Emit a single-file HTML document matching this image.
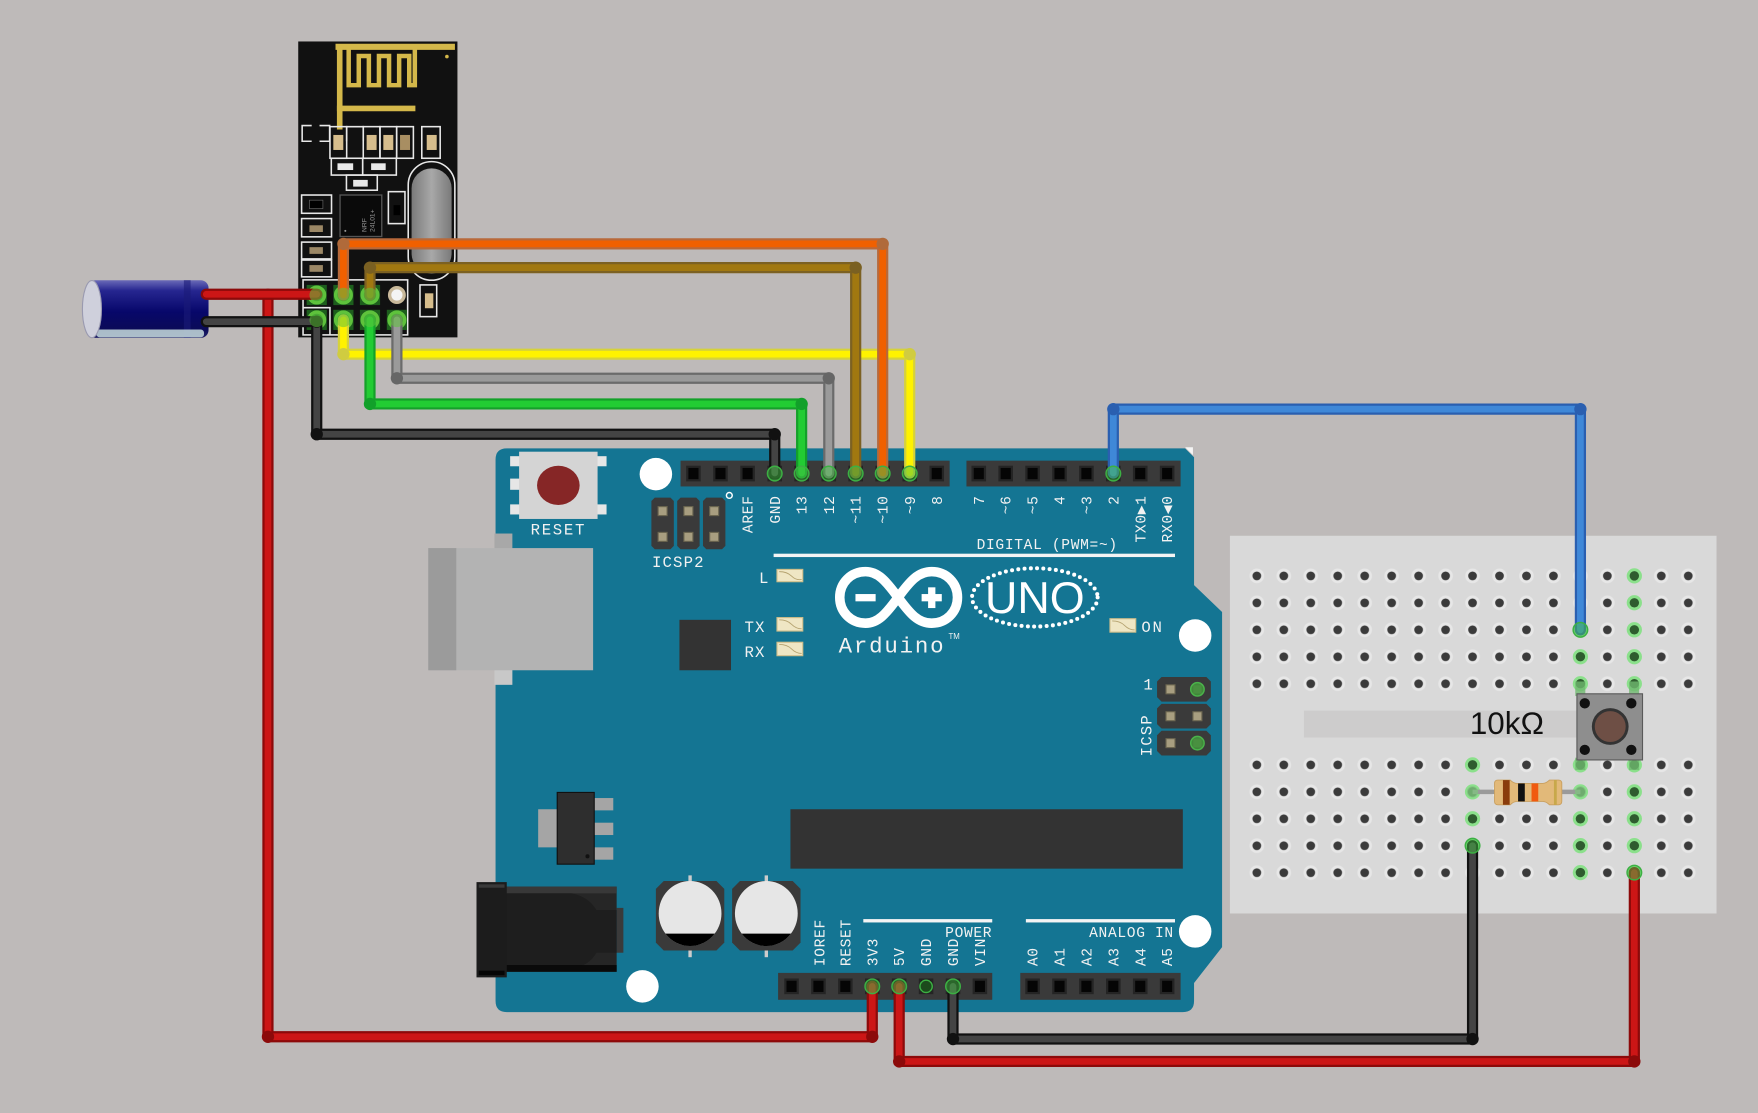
<!DOCTYPE html>
<html><head><meta charset="utf-8">
<style>
html,body{margin:0;padding:0;background:#bebab9;overflow:hidden}
svg{display:block}
text{font-family:"Liberation Mono","DejaVu Sans Mono",monospace;fill:#f2f2f2}
.lb{font-size:13px;letter-spacing:0.6px}
</style></head><body>
<svg width="1758" height="1113" viewBox="0 0 1568 993" preserveAspectRatio="none" xmlns="http://www.w3.org/2000/svg">
<defs>
 <g id="pin"><rect x="-6.5" y="-7" width="13" height="14" fill="#242424"/><rect x="-4.5" y="-5" width="9" height="10" fill="#050505"/></g>
 <g id="gp"><circle r="6.5" fill="rgba(70,190,70,0.5)" stroke="#3cb043" stroke-width="1.3"/></g>
 <g id="gh"><circle r="6.8" fill="#8be08b"/><circle r="4.2" fill="#2f5c2f"/></g>
 <g id="tp"><rect x="-4" y="-4" width="8" height="8" fill="#a89e80" stroke="#6c6650" stroke-width="1"/></g>
 <pattern id="holes" patternUnits="userSpaceOnUse" x="1109" y="501.8" width="24.05" height="24.05">
   <circle cx="12" cy="12" r="6.5" fill="#e7e7e7"/><circle cx="12" cy="12" r="3.9" fill="#3b3b3b"/>
 </pattern>
 <pattern id="holes2" patternUnits="userSpaceOnUse" x="1109" y="670.4" width="24.05" height="24.05">
   <circle cx="12" cy="12" r="6.5" fill="#e7e7e7"/><circle cx="12" cy="12" r="3.9" fill="#3b3b3b"/>
 </pattern>
 <linearGradient id="capg" x1="0" y1="0" x2="0" y2="1">
  <stop offset="0" stop-color="#6a6ab8"/><stop offset="0.18" stop-color="#262690"/>
  <stop offset="0.55" stop-color="#07076a"/><stop offset="0.85" stop-color="#0b0b58"/><stop offset="1" stop-color="#23236a"/>
 </linearGradient>
 <linearGradient id="xtal" x1="0" y1="0" x2="1" y2="0">
  <stop offset="0" stop-color="#7a7a7a"/><stop offset="0.5" stop-color="#a8a8a8"/><stop offset="1" stop-color="#7a7a7a"/>
 </linearGradient>
</defs>

<rect width="1568" height="993" fill="#bebab9"/>

<!-- ===== Breadboard ===== -->
<rect x="1097" y="478" width="434" height="337" fill="#d9d9d9"/>
<rect x="1109" y="501.8" width="408.9" height="120.3" fill="url(#holes)"/>
<rect x="1109" y="670.4" width="408.9" height="120.3" fill="url(#holes2)"/>
<rect x="1163" y="634" width="244" height="24" fill="#cdcccc"/>
<text x="1311" y="655" style="font-family:'Liberation Sans',sans-serif;font-size:28px;fill:#111">10kΩ</text>
<!-- green holes -->
<use href="#gh" x="1409.6" y="561.9"/><use href="#gh" x="1409.6" y="585.9"/><use href="#gh" x="1409.6" y="610"/>
<use href="#gh" x="1409.6" y="682.4"/><use href="#gh" x="1409.6" y="706.5"/><use href="#gh" x="1409.6" y="730.5"/><use href="#gh" x="1409.6" y="754.5"/><use href="#gh" x="1409.6" y="778.5"/>
<use href="#gh" x="1457.7" y="513.8"/><use href="#gh" x="1457.7" y="537.8"/><use href="#gh" x="1457.7" y="561.9"/><use href="#gh" x="1457.7" y="585.9"/><use href="#gh" x="1457.7" y="610"/>
<use href="#gh" x="1457.7" y="682.4"/><use href="#gh" x="1457.7" y="706.5"/><use href="#gh" x="1457.7" y="730.5"/><use href="#gh" x="1457.7" y="754.5"/><use href="#gh" x="1457.7" y="778.5"/>
<use href="#gh" x="1313.4" y="682.4"/><use href="#gh" x="1313.4" y="706.5"/><use href="#gh" x="1313.4" y="730.5"/><use href="#gh" x="1313.4" y="754.5"/>
<!-- pushbutton legs -->
<rect x="1405" y="608" width="9" height="13" fill="#6fb86f" opacity="0.8"/>
<rect x="1453" y="608" width="9" height="13" fill="#6fb86f" opacity="0.8"/>
<rect x="1405" y="676" width="9" height="11" fill="#6fb86f" opacity="0.8"/>
<rect x="1453" y="676" width="9" height="11" fill="#6fb86f" opacity="0.8"/>
<!-- pushbutton -->
<rect x="1406.5" y="619" width="58.5" height="59" fill="#8e8e8e" stroke="#5a5a5a" stroke-width="1"/>
<circle cx="1436.2" cy="648.2" r="16.4" fill="#333"/>
<circle cx="1436.2" cy="648.2" r="13.8" fill="#6e4f45"/>
<circle cx="1413.5" cy="627.5" r="4.6" fill="#111"/><circle cx="1455" cy="627.5" r="4.6" fill="#111"/>
<circle cx="1413.5" cy="669" r="4.6" fill="#111"/><circle cx="1455" cy="669" r="4.6" fill="#111"/>
<!-- resistor -->
<line x1="1313.4" y1="706.5" x2="1409.6" y2="706.5" stroke="#9a9a9a" stroke-width="4"/>
<circle cx="1313.4" cy="706.5" r="5" fill="#7fc07f" opacity="0.8"/><circle cx="1409.6" cy="706.5" r="5" fill="#7fc07f" opacity="0.8"/>
<path d="M1336,696 H1347 Q1350,699 1353,699 H1376 Q1379,699 1382,696 H1390 Q1393,696 1393,699 V715 Q1393,718 1390,718 H1382 Q1379,715 1376,715 H1353 Q1350,715 1347,718 H1336 Q1333,718 1333,715 V699 Q1333,696 1336,696 Z" fill="#e2b979" stroke="#c9a060" stroke-width="0.8"/>
<rect x="1340.5" y="696" width="6" height="22" fill="#8a3c0c"/>
<rect x="1354" y="699" width="6" height="16" fill="#111"/>
<rect x="1366" y="699" width="6" height="16" fill="#f05a10"/>
<rect x="1386" y="696" width="2.5" height="22" fill="#c8a84a"/>

<!-- ===== Arduino board ===== -->
<path d="M452,400 H1057 L1065,408 V522 L1090,546 V845 L1065,877 V893 Q1065,903 1055,903 H452 Q442,903 442,893 V410 Q442,400 452,400 Z" fill="#147593"/>
<polygon points="1057,399 1064,399 1064,406" fill="#f4f4f4"/>
<!-- mounting holes -->
<circle cx="585" cy="423" r="14.5" fill="#fff"/>
<circle cx="1066" cy="567" r="14.5" fill="#fff"/>
<circle cx="1066" cy="831" r="14.5" fill="#fff"/>
<circle cx="573" cy="880" r="14.5" fill="#fff"/>
<!-- reset -->
<rect x="455" y="407" width="9" height="9" fill="#e6e6e6"/><rect x="455" y="427" width="9" height="10" fill="#e6e6e6"/><rect x="455" y="450" width="9" height="9" fill="#e6e6e6"/>
<rect x="532" y="407" width="9" height="9" fill="#e6e6e6"/><rect x="532" y="450" width="9" height="9" fill="#e6e6e6"/>
<rect x="463" y="403" width="70" height="60" fill="#d4d4d4"/>
<ellipse cx="498" cy="433" rx="19" ry="17.5" fill="#862626"/>
<text x="498" y="477" text-anchor="middle" style="font-size:14px;letter-spacing:1.5px">RESET</text>
<!-- USB -->
<rect x="441" y="476" width="16" height="14" fill="#a8a8a8"/>
<rect x="441" y="597" width="16" height="14" fill="#c8c8c8"/>
<rect x="382" y="489" width="147" height="109" fill="#b3b3b3"/>
<rect x="382" y="489" width="25" height="109" fill="#9b9b9b"/>
<!-- ICSP2 -->
<path d="M584,444 H598 L601,447 V487 L598,490 H584 L581,487 V447 Z" fill="#3a3a3a"/>
<path d="M607,444 H621 L624,447 V487 L621,490 H607 L604,487 V447 Z" fill="#3a3a3a"/>
<path d="M630,444 H644 L647,447 V487 L644,490 H630 L627,487 V447 Z" fill="#3a3a3a"/>
<use href="#tp" x="591" y="456"/><use href="#tp" x="614" y="456"/><use href="#tp" x="637" y="456"/>
<use href="#tp" x="591" y="479"/><use href="#tp" x="614" y="479"/><use href="#tp" x="637" y="479"/>
<circle cx="650.5" cy="442" r="2.6" fill="none" stroke="#fff" stroke-width="1.3"/>
<text x="605" y="506" text-anchor="middle" style="font-size:14px;letter-spacing:1px">ICSP2</text>
<!-- 16U2 chip -->
<rect x="606" y="553" width="46" height="45" fill="#333"/>
<!-- LEDs -->
<g fill="#efe6c4" stroke="#cdbd8a" stroke-width="1">
<rect x="693" y="508" width="23" height="11"/><rect x="693" y="551" width="23" height="12"/><rect x="693" y="573" width="23" height="12"/><rect x="990" y="552" width="23" height="12"/>
</g>
<g stroke="#b5a370" stroke-width="0.8" fill="none">
<path d="M695,510 Q702,510 706,514 T715,517"/><path d="M695,553 Q702,553 706,557 T715,561"/><path d="M695,575 Q702,575 706,579 T715,583"/><path d="M992,554 Q999,554 1003,558 T1012,562"/>
</g>
<text x="677" y="520" style="font-size:14px">L</text>
<text x="664" y="564" style="font-size:14px;letter-spacing:1px">TX</text>
<text x="664" y="586" style="font-size:14px;letter-spacing:1px">RX</text>
<text x="1018" y="564" style="font-size:14px;letter-spacing:1.5px">ON</text>
<!-- logo -->
<path d="M801,533 C790,518 783,510 772,510 C759,510 749,520 749,533 C749,546 759,556 772,556 C783,556 790,548 801,533 C812,518 819,510 831,510 C844,510 854,520 854,533 C854,546 844,556 831,556 C819,556 812,548 801,533 Z" fill="none" stroke="#fff" stroke-width="8.5"/>
<rect x="763" y="530" width="18" height="6.5" fill="#fff"/>
<rect x="822" y="530" width="18" height="6.5" fill="#fff"/>
<rect x="827.8" y="524" width="6.5" height="18.5" fill="#fff"/>
<ellipse cx="923" cy="533" rx="56" ry="26" fill="none" stroke="#fff" stroke-width="3.6" stroke-dasharray="0 5.6" stroke-linecap="round"/>
<text x="923" y="547" text-anchor="middle" style="font-family:'Liberation Sans',sans-serif;font-size:40px;fill:#fff">UNO</text>
<text x="748" y="582" style="font-size:20px;letter-spacing:1.6px">Arduino</text>
<text x="846" y="570" style="font-family:'Liberation Sans',sans-serif;font-size:7px">TM</text>
<!-- digital line + text -->
<rect x="690" y="494" width="358" height="3" fill="#f4f4f4"/>
<text x="997" y="490" text-anchor="end" class="lb">DIGITAL (PWM=~)</text>
<!-- right ICSP -->
<path d="M1036,604 H1076 L1080,608 V622 L1076,626 H1036 L1032,622 V608 Z" fill="#3a3a3a"/>
<path d="M1036,628 H1076 L1080,632 V646 L1076,650 H1036 L1032,646 V632 Z" fill="#3a3a3a"/>
<path d="M1036,652 H1076 L1080,656 V670 L1076,674 H1036 L1032,670 V656 Z" fill="#3a3a3a"/>
<use href="#tp" x="1044" y="615"/><use href="#tp" x="1068" y="615"/>
<use href="#tp" x="1044" y="639"/><use href="#tp" x="1068" y="639"/>
<use href="#tp" x="1044" y="663"/><use href="#tp" x="1068" y="663"/>
<circle cx="1068" cy="615" r="6" fill="#3f8f3a" stroke="#4cc04c" stroke-width="1.3" opacity="0.9"/>
<circle cx="1068" cy="663" r="6" fill="#3f8f3a" stroke="#4cc04c" stroke-width="1.3" opacity="0.9"/>
<text x="1024" y="615" text-anchor="middle" style="font-size:14px">1</text>
<text transform="translate(1027,656) rotate(-90)" text-anchor="middle" style="font-size:14px;letter-spacing:1px">ICSP</text>
<!-- ATmega -->
<rect x="705" y="722" width="350" height="53" fill="#333"/>
<!-- regulator -->
<rect x="480" y="722" width="18" height="34" fill="#a5a5a5"/>
<rect x="529" y="712" width="18" height="11" fill="#a5a5a5"/>
<rect x="529" y="734" width="18" height="11" fill="#a5a5a5"/>
<rect x="529" y="756" width="18" height="11" fill="#a5a5a5"/>
<rect x="497" y="707" width="33" height="64" fill="#2e2e2e" stroke="#111" stroke-width="1"/>
<circle cx="524" cy="764" r="1.8" fill="#111"/>
<!-- power jack -->
<rect x="550" y="810" width="6" height="40" fill="#3a3a3a"/>
<rect x="451" y="791" width="99" height="76" fill="#262626"/>
<rect x="451" y="791" width="99" height="6" fill="#383838"/>
<path d="M451,797 H510 Q525,800 532,812 H550 V850 H532 Q525,862 510,864 H451 Z" fill="#1e1e1e"/>
<rect x="451" y="861" width="99" height="6" fill="#0a0a0a"/>
<rect x="425" y="787" width="27" height="85" fill="#1c1c1c"/>
<rect x="427" y="789" width="23" height="3" fill="#3a3a3a"/>
<rect x="427" y="866" width="23" height="4" fill="#050505"/>
<!-- capacitors -->
<polygon points="592,786 639,786 646,793 646,841 639,848 592,848 585,841 585,793" fill="#3a3a3a"/>
<polygon points="660,786 707,786 714,793 714,841 707,848 660,848 653,841 653,793" fill="#3a3a3a"/>
<rect x="614" y="781" width="3" height="6" fill="#ccc"/><rect x="614" y="848" width="3" height="6" fill="#ccc"/>
<rect x="682" y="781" width="3" height="6" fill="#ccc"/><rect x="682" y="848" width="3" height="6" fill="#ccc"/>
<ellipse cx="615.5" cy="815" rx="28" ry="29" fill="#e6e6e6"/>
<ellipse cx="683.5" cy="815" rx="28" ry="29" fill="#e6e6e6"/>
<path d="M593.5,833 A28,29 0 0 0 637.5,833 Z" fill="#000"/>
<path d="M661.5,833 A28,29 0 0 0 705.5,833 Z" fill="#000"/>

<!-- top headers -->
<rect x="607" y="411" width="240" height="23" fill="#3a3a3a"/>
<rect x="862" y="411" width="191" height="23" fill="#3a3a3a"/>
<use href="#pin" x="618.5" y="422.5"/><use href="#pin" x="642.6" y="422.5"/><use href="#pin" x="666.8" y="422.5"/><use href="#pin" x="691" y="422.5"/><use href="#pin" x="715" y="422.5"/>
<use href="#pin" x="739.2" y="422.5"/><use href="#pin" x="763.2" y="422.5"/><use href="#pin" x="787.3" y="422.5"/><use href="#pin" x="811.4" y="422.5"/><use href="#pin" x="835.5" y="422.5"/>
<use href="#pin" x="873" y="422.5"/><use href="#pin" x="897" y="422.5"/><use href="#pin" x="921" y="422.5"/><use href="#pin" x="945" y="422.5"/>
<use href="#pin" x="969" y="422.5"/><use href="#pin" x="993" y="422.5"/><use href="#pin" x="1017" y="422.5"/><use href="#pin" x="1041" y="422.5"/>
<!-- top labels -->
<g class="lb" text-anchor="end">
<text transform="translate(671.3,442) rotate(-90)">AREF</text>
<text transform="translate(695.5,442) rotate(-90)">GND</text>
<text transform="translate(719.5,442) rotate(-90)">13</text>
<text transform="translate(743.7,442) rotate(-90)">12</text>
<text transform="translate(767.7,442) rotate(-90)">~11</text>
<text transform="translate(791.8,442) rotate(-90)">~10</text>
<text transform="translate(815.9,442) rotate(-90)">~9</text>
<text transform="translate(840,442) rotate(-90)">8</text>
<text transform="translate(877.5,442) rotate(-90)">7</text>
<text transform="translate(901.5,442) rotate(-90)">~6</text>
<text transform="translate(925.5,442) rotate(-90)">~5</text>
<text transform="translate(949.5,442) rotate(-90)">4</text>
<text transform="translate(973.5,442) rotate(-90)">~3</text>
<text transform="translate(997.5,442) rotate(-90)">2</text>
<text transform="translate(1021.5,442) rotate(-90)">TX0▶1</text>
<text transform="translate(1045.5,442) rotate(-90)">RX0◀0</text>
</g>
<!-- bottom headers -->
<rect x="694" y="868" width="191" height="24" fill="#3a3a3a"/>
<rect x="910" y="868" width="143" height="24" fill="#3a3a3a"/>
<use href="#pin" x="706" y="880"/><use href="#pin" x="730" y="880"/><use href="#pin" x="754" y="880"/><use href="#pin" x="778" y="880"/>
<use href="#pin" x="802" y="880"/><use href="#pin" x="826" y="880"/><use href="#pin" x="850" y="880"/><use href="#pin" x="874" y="880"/>
<use href="#pin" x="921" y="880"/><use href="#pin" x="945" y="880"/><use href="#pin" x="969" y="880"/><use href="#pin" x="993" y="880"/><use href="#pin" x="1017" y="880"/><use href="#pin" x="1041" y="880"/>
<circle cx="826" cy="880" r="5.5" fill="#1c4a1c" stroke="#3cb043" stroke-width="1.3"/>
<rect x="770" y="820" width="115" height="3" fill="#f4f4f4"/>
<rect x="915" y="820" width="133" height="3" fill="#f4f4f4"/>
<text x="885" y="836" text-anchor="end" class="lb">POWER</text>
<text x="1047" y="836" text-anchor="end" class="lb">ANALOG IN</text>
<g class="lb">
<text transform="translate(735.5,862) rotate(-90)">IOREF</text>
<text transform="translate(758.5,862) rotate(-90)">RESET</text>
<text transform="translate(782.5,862) rotate(-90)">3V3</text>
<text transform="translate(806.5,862) rotate(-90)">5V</text>
<text transform="translate(830.5,862) rotate(-90)">GND</text>
<text transform="translate(854.5,862) rotate(-90)">GND</text>
<text transform="translate(878.5,862) rotate(-90)">VIN</text>
<text transform="translate(925.5,862) rotate(-90)">A0</text>
<text transform="translate(949.5,862) rotate(-90)">A1</text>
<text transform="translate(973.5,862) rotate(-90)">A2</text>
<text transform="translate(997.5,862) rotate(-90)">A3</text>
<text transform="translate(1021.5,862) rotate(-90)">A4</text>
<text transform="translate(1045.5,862) rotate(-90)">A5</text>
</g>

<!-- ===== nRF24L01 module ===== -->
<rect x="266" y="37" width="142" height="264" fill="#111"/>
<g stroke="#d4b84a" fill="none" stroke-linecap="square">
<line x1="302" y1="41.8" x2="403" y2="41.8" stroke-width="5.5"/>
<line x1="303" y1="42" x2="303" y2="113" stroke-width="5"/>
<line x1="303" y1="96.7" x2="368" y2="96.7" stroke-width="5"/>
<path d="M311,44 V76 H320 V50 H329 V76 H338 V50 H347 V76 H356 V50 H365 V76 H370 V44" stroke-width="4" stroke-linecap="butt"/>
</g>
<circle cx="398.6" cy="50.5" r="1.6" fill="#d4b84a"/>
<g fill="none" stroke="#e8e8e8" stroke-width="1.4">
<path d="M278,112 H269.5 V126 H278"/><path d="M285,112 H294 V126 H285"/>
<rect x="294.3" y="113" width="14.9" height="28.2"/>
<path d="M309.2,126 V113 H324 V126"/>
<rect x="324" y="113" width="14.9" height="28.2"/>
<rect x="338.9" y="113" width="14.9" height="28.2"/>
<rect x="353.8" y="113" width="14.9" height="28.2"/>
<rect x="376.2" y="113" width="16.4" height="28.2"/>
<rect x="295.5" y="141.2" width="28" height="15"/>
<rect x="323.5" y="141.2" width="30" height="15"/>
<rect x="309" y="156.2" width="27.5" height="13.5"/>
<rect x="269" y="174" width="26.7" height="16.3"/>
<rect x="269" y="195" width="26.7" height="16.3"/>
<rect x="269" y="216" width="26.7" height="15"/>
<rect x="269" y="232" width="26.7" height="15"/>
<rect x="346.4" y="171" width="14.8" height="28.5"/>
<rect x="364.1" y="144.2" width="41.6" height="105.8" rx="20.8"/>
<rect x="374.6" y="254.2" width="14.9" height="28.3"/>
<rect x="270.3" y="249.7" width="93.3" height="49.1"/>
<path d="M270.3,274.5 H294.3 V298.8"/>
</g>
<g fill="#d6bd8c">
<rect x="297.3" y="120.4" width="8.9" height="13.4"/><rect x="327" y="120.4" width="8.9" height="13.4"/>
<rect x="341.9" y="120.4" width="8.9" height="13.4"/><rect x="380.6" y="120.4" width="8.9" height="13.4"/>
<rect x="379" y="261.7" width="7.5" height="13.3"/>
</g>
<rect x="356.8" y="120.4" width="8.9" height="13.4" fill="#a88e62"/>
<g fill="#e8e8e8">
<rect x="301" y="145.7" width="14" height="6"/><rect x="331" y="145.7" width="13" height="6"/><rect x="315" y="160.5" width="13" height="6"/>
</g>
<g fill="#9c8866">
<rect x="276" y="201" width="12" height="6"/><rect x="276" y="220.5" width="12" height="6"/><rect x="276" y="236.5" width="12" height="6"/>
</g>
<rect x="276" y="178.6" width="12" height="7.5" fill="#000" stroke="#666" stroke-width="0.6"/>
<rect x="351" y="183" width="6" height="9" fill="#000"/>
<rect x="367.1" y="150.2" width="35.7" height="93.8" rx="17.8" fill="url(#xtal)"/>
<rect x="303.3" y="174" width="37.2" height="37" fill="#0a0a0a" stroke="#555" stroke-width="1.2"/>
<text transform="translate(327,207) rotate(-90)" style="font-size:6px;fill:#9a9a9a;font-family:'Liberation Sans',sans-serif">NRF</text>
<text transform="translate(334,207) rotate(-90)" style="font-size:6px;fill:#9a9a9a;font-family:'Liberation Sans',sans-serif">24L01+</text>
<circle cx="308" cy="206" r="0.9" fill="#9a9a9a"/>
<!-- nRF pins -->
<g fill="#1d5e1d">
<rect x="273.5" y="254.2" width="18" height="18"/><rect x="297.3" y="254.2" width="18" height="18"/><rect x="321" y="254.2" width="18" height="18"/>
<rect x="273.5" y="276.4" width="18" height="18"/><rect x="297.3" y="276.4" width="18" height="18"/><rect x="321" y="276.4" width="18" height="18"/><rect x="345" y="276.4" width="18" height="18"/>
</g>
<g fill="#2b8a2b" stroke="#5ec23c" stroke-width="3">
<circle cx="282.5" cy="263.2" r="7"/><circle cx="306.3" cy="263.2" r="7"/><circle cx="330" cy="263.2" r="7"/>
<circle cx="282.5" cy="285.4" r="7"/><circle cx="306.3" cy="285.4" r="7"/><circle cx="330" cy="285.4" r="7"/><circle cx="354" cy="285.4" r="7"/>
</g>
<circle cx="354" cy="263.2" r="6.5" fill="#f4f4f4" stroke="#c9b99a" stroke-width="3"/>

<!-- electrolytic capacitor -->
<rect x="78" y="250" width="108" height="51.5" rx="7" fill="url(#capg)"/>
<rect x="164" y="250" width="6" height="51.5" fill="#1a1a78" opacity="0.6"/>
<rect x="86" y="294" width="96" height="7" rx="3" fill="#c6dadc" opacity="0.85"/>
<ellipse cx="82" cy="275.8" rx="8.5" ry="25.5" fill="#cfd0dc" stroke="#9a9ab0" stroke-width="1"/>

<!-- ===== Wires ===== -->
<g fill="none" stroke-linejoin="round" stroke-linecap="round">
 <!-- red long to 3V3 -->
 <polyline points="239,262.5 239,925 778,925 778,880" stroke="#8c0a0a" stroke-width="10"/>
 <polyline points="239,262.5 239,925 778,925 778,880" stroke="#cc1616" stroke-width="6"/>
 <polyline points="184,262.5 282.5,262.5" stroke="#8c0a0a" stroke-width="10"/>
 <polyline points="184,262.5 282.5,262.5" stroke="#cc1616" stroke-width="6"/>
 <!-- yellow -->
 <polyline points="306.3,285.4 306.3,316 811.4,316 811.4,422" stroke="#d6d23a" stroke-width="10"/>
 <polyline points="306.3,285.4 306.3,316 811.4,316 811.4,422" stroke="#fff200" stroke-width="6"/>
 <!-- gray -->
 <polyline points="354,285.4 354,337.5 739.2,337.5 739.2,422" stroke="#6b6b6b" stroke-width="10"/>
 <polyline points="354,285.4 354,337.5 739.2,337.5 739.2,422" stroke="#9a9a9a" stroke-width="6"/>
 <!-- green -->
 <polyline points="330,285.4 330,360.4 715,360.4 715,422" stroke="#15a02a" stroke-width="10"/>
 <polyline points="330,285.4 330,360.4 715,360.4 715,422" stroke="#22cc33" stroke-width="6"/>
 <!-- black -->
 <polyline points="184,287 282.5,287 282.5,387.4 691,387.4 691,422" stroke="#111" stroke-width="10"/>
 <polyline points="184,287 282.5,287 282.5,387.4 691,387.4 691,422" stroke="#444" stroke-width="6"/>
 <!-- brown -->
 <polyline points="330,263.2 330,238.8 763.2,238.8 763.2,422" stroke="#7c6122" stroke-width="10"/>
 <polyline points="330,263.2 330,238.8 763.2,238.8 763.2,422" stroke="#a17810" stroke-width="6"/>
 <!-- orange -->
 <polyline points="306.3,263.2 306.3,217.6 787.3,217.6 787.3,422" stroke="#b8693a" stroke-width="10"/>
 <polyline points="306.3,263.2 306.3,217.6 787.3,217.6 787.3,422" stroke="#f06000" stroke-width="6"/>
 <!-- blue -->
 <polyline points="993,422 993,365 1409.6,365 1409.6,562" stroke="#2a5fb0" stroke-width="10"/>
 <polyline points="993,422 993,365 1409.6,365 1409.6,562" stroke="#3f88d8" stroke-width="6"/>
 <!-- black bottom -->
 <polyline points="850,880 850,927 1313.4,927 1313.4,754.5" stroke="#111" stroke-width="10"/>
 <polyline points="850,880 850,927 1313.4,927 1313.4,754.5" stroke="#444" stroke-width="6"/>
 <!-- red bottom -->
 <polyline points="802,880 802,947 1457.7,947 1457.7,778.5" stroke="#8c0a0a" stroke-width="10"/>
 <polyline points="802,880 802,947 1457.7,947 1457.7,778.5" stroke="#cc1616" stroke-width="6"/>
</g>
<!-- corner blobs -->
<g fill="#8c0a0a"><circle cx="239" cy="925" r="5.5"/><circle cx="778" cy="925" r="5.5"/><circle cx="802" cy="947" r="5.5"/><circle cx="1457.7" cy="947" r="5.5"/></g>
<g fill="#d0cc40"><circle cx="306.3" cy="316" r="5.5"/><circle cx="811.4" cy="316" r="5.5"/></g>
<g fill="#666"><circle cx="354" cy="337.5" r="5.5"/><circle cx="739.2" cy="337.5" r="5.5"/></g>
<g fill="#12a02a"><circle cx="330" cy="360.4" r="5.5"/><circle cx="715" cy="360.4" r="5.5"/></g>
<g fill="#111"><circle cx="282.5" cy="387.4" r="5.5"/><circle cx="691" cy="387.4" r="5.5"/><circle cx="282.5" cy="287" r="5.5"/><circle cx="850" cy="927" r="5.5"/><circle cx="1313.4" cy="927" r="5.5"/></g>
<g fill="#7a6022"><circle cx="330" cy="238.8" r="5.5"/><circle cx="763.2" cy="238.8" r="5.5"/></g>
<g fill="#b06a3a"><circle cx="306.3" cy="217.6" r="5.5"/><circle cx="787.3" cy="217.6" r="5.5"/></g>
<g fill="#2a5fb0"><circle cx="993" cy="365" r="5.5"/><circle cx="1409.6" cy="365" r="5.5"/></g>
<!-- wire end halos -->
<use href="#gp" x="691" y="422.5"/><use href="#gp" x="715" y="422.5"/><use href="#gp" x="739.2" y="422.5"/><use href="#gp" x="763.2" y="422.5"/>
<use href="#gp" x="787.3" y="422.5"/><use href="#gp" x="811.4" y="422.5"/><use href="#gp" x="993" y="422.5"/>
<use href="#gp" x="778" y="880"/><use href="#gp" x="802" y="880"/><use href="#gp" x="850" y="880"/>
<use href="#gp" x="1409.6" y="561.9"/><use href="#gp" x="1313.4" y="754.5"/><use href="#gp" x="1457.7" y="778.5"/>
<g fill="rgba(94,194,60,0.55)"><circle cx="282.5" cy="263.2" r="6.5"/><circle cx="306.3" cy="263.2" r="6.5"/><circle cx="330" cy="263.2" r="6.5"/>
<circle cx="282.5" cy="285.4" r="6.5"/><circle cx="306.3" cy="285.4" r="6.5"/><circle cx="330" cy="285.4" r="6.5"/><circle cx="354" cy="285.4" r="6.5"/></g>
</svg>
</body></html>
